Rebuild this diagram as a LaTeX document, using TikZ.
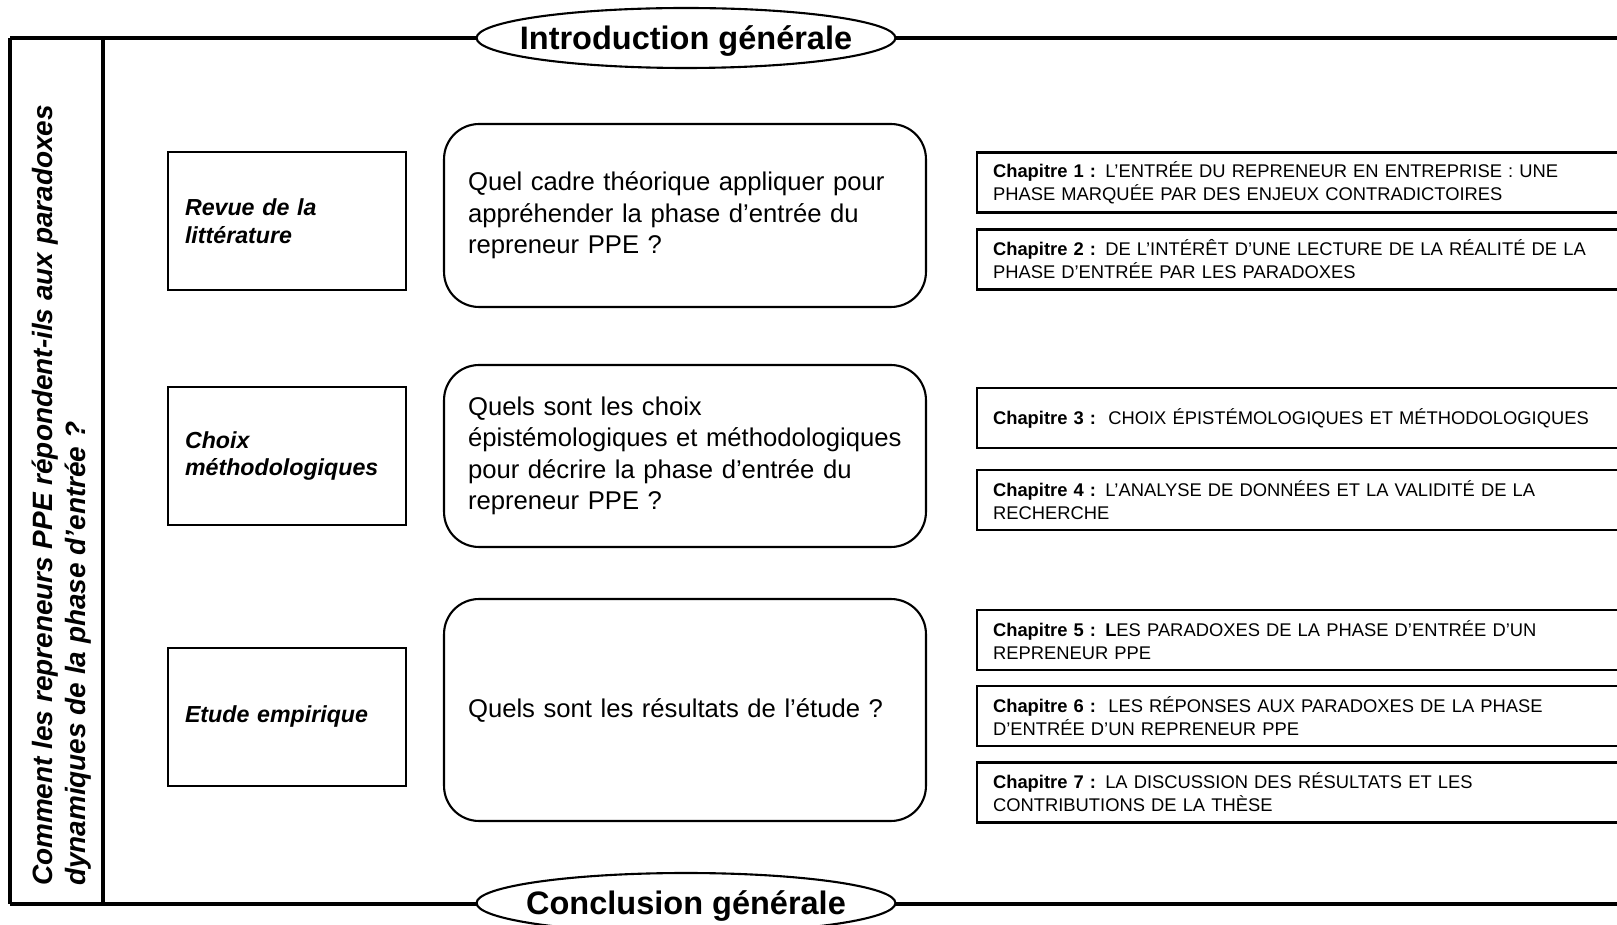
\documentclass[tikz,border=0pt]{standalone}
\usepackage{fontspec}
\setmainfont{Liberation Sans}
\usetikzlibrary{shapes.geometric}

\begin{document}
\begin{tikzpicture}[x=0.02cm, y=-0.02cm, line width=1.2pt,
part node/.style={rectangle,draw,minimum width=4.76cm,minimum height=2.76cm,inner xsep=0.34cm,text width=4.08cm,align=left,font=\fontsize{13.2}{15.8}\selectfont\bfseries\itshape},
question node/.style={rectangle,draw,rounded corners=0.7cm,minimum width=9.64cm,inner xsep=0.48cm,text width=8.68cm,align=left,font=\fontsize{14.6}{17.9}\selectfont},
chapter node/.style={rectangle,draw,anchor=west,minimum width=13.28cm,minimum height=1.2cm,inner xsep=0.32cm,text width=12.64cm,align=left,font=\fontsize{10.45}{13.1}\selectfont},
end node/.style={ellipse,draw,fill=white,minimum width=8.38cm,minimum height=1.2cm,inner sep=0pt,text depth=0pt,font=\fontsize{18.5}{22}\selectfont\bfseries}]%fill=black,
\clip (0,0) rectangle (1617,925);
% frame
\coordinate (tl) at (10,38);
\coordinate (tm) at (103,38);
\coordinate (tr) at (1640,38);
\coordinate (bl) at (10,904);
\coordinate (bm) at (103,904);
\coordinate (br) at (1640,904);
\begin{scope}[line width=1.8pt]
\draw (tl) -- (tr);
\draw (bl) -- (br);
\draw (tl) -- (bl);
\draw (tm) -- (bm);
\end{scope}
\node[rotate=90,anchor=west,inner sep=0pt,align=left,font=\fontsize{15.9}{18.5}\selectfont\bfseries\itshape] (main) at (61.5,887) {Comment les repreneurs PPE répondent-ils aux paradoxes\\dynamiques de la phase d'entrée ?};
\begin{scope}
\node[end node] (intro) at (686,38) {\makebox[0pt]{Introduction générale}};
\node[end node] (concl) at (686,903) {\makebox[0pt]{Conclusion générale}};
\end{scope}
\begin{scope}
\node[part node] (p1) at (287,221) {Revue de la\\littérature};
\node[part node] (p2) at (287,456) {Choix\\méthodologiques};
\node[part node] (p3) at (287,717) {Etude empirique};
%\node[part node] (p) at (,) {};
\end{scope}
\begin{scope}
\node[question node,minimum height=3.66cm] (q1) at (685,215.5) {Quel cadre théorique appliquer pour\\appréhender la phase d'entrée du\\repreneur PPE ?};
\node[question node,minimum height=3.64cm] (q2) at (685,456) {Quels sont les choix\\épistémologiques et méthodologiques\\pour décrire la phase d'entrée du\\repreneur PPE ?};
\node[question node,minimum height=4.44cm] (q3) at (685,710) {Quels sont les résultats de l'étude ?};
\end{scope}
\begin{scope}
\node[chapter node] (c1) at (976,182.5) {\textbf{Chapitre 1 :} L'ENTRÉE DU REPRENEUR EN ENTREPRISE : UNE\\PHASE MARQUÉE PAR DES ENJEUX CONTRADICTOIRES};
\node[chapter node] (c2) at (976,259.5) {\textbf{Chapitre 2 :} DE L'INTÉRÊT D'UNE LECTURE DE LA RÉALITÉ DE LA\\PHASE D'ENTRÉE PAR LES PARADOXES};
\node[chapter node] (c3) at (976,418) {\textbf{Chapitre 3 :}\ \ CHOIX ÉPISTÉMOLOGIQUES ET MÉTHODOLOGIQUES};
\node[chapter node] (c4) at (976,500) {\textbf{Chapitre 4 :} L'ANALYSE DE DONNÉES ET LA VALIDITÉ DE LA\\RECHERCHE};
\node[chapter node] (c5) at (976,640) {\textbf{Chapitre 5 : L}ES PARADOXES DE LA PHASE D'ENTRÉE D'UN\\REPRENEUR PPE};
\node[chapter node] (c6) at (976,716) {\textbf{Chapitre 6 :}\ \ LES RÉPONSES AUX PARADOXES DE LA PHASE\\D'ENTRÉE D'UN REPRENEUR PPE};
\node[chapter node] (c7) at (976,792.5) {\textbf{Chapitre 7 :} LA DISCUSSION DES RÉSULTATS ET LES\\CONTRIBUTIONS DE LA THÈSE};
%\node[chapter node] (c) at (,) {};
\end{scope}
\end{tikzpicture}
\end{document}
